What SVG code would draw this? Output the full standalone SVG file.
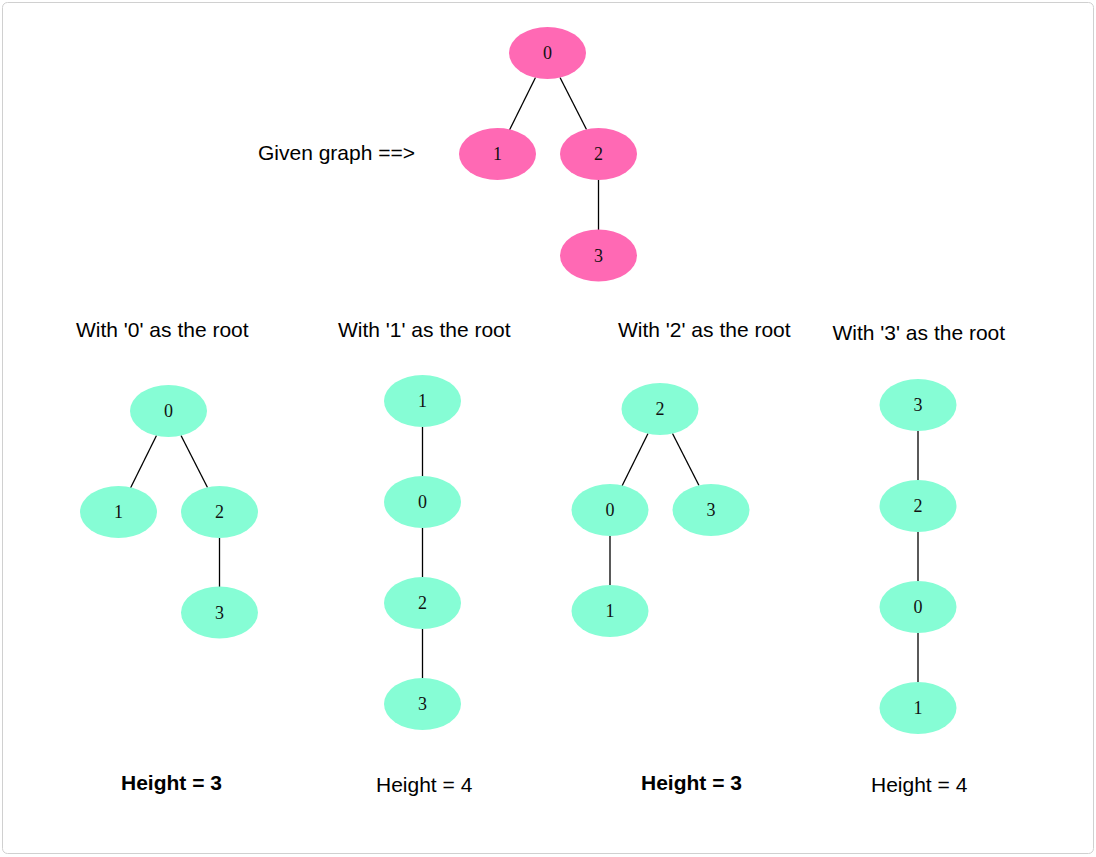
<svg xmlns="http://www.w3.org/2000/svg" width="1096" height="857" viewBox="0 0 1096 857">
<style>
.pink{fill:#ff69b4}
.green{fill:#86fdd5}
.num{font-family:"Liberation Serif","Times New Roman",serif;font-size:18px;fill:#111;text-anchor:middle}
.lbl{font-family:"Liberation Sans",Arial,sans-serif;font-size:21px;fill:#000}
.b{font-weight:bold}
.edges line{stroke:#000;stroke-width:1.3}
</style>
<rect x="2.5" y="2.5" width="1091" height="851" rx="5" fill="#fff" stroke="#d0d0d0" stroke-width="1"/>
<g class="edges">
<line x1="535.5" y1="77.5" x2="509.5" y2="130"/>
<line x1="560" y1="77.5" x2="586.5" y2="129.5"/>
<line x1="598.5" y1="180" x2="598.5" y2="230"/>
<line x1="156.5" y1="435.5" x2="130.5" y2="488"/>
<line x1="181" y1="435.5" x2="207.5" y2="487.5"/>
<line x1="219.5" y1="538" x2="219.5" y2="587"/>
<line x1="422.5" y1="427" x2="422.5" y2="477"/>
<line x1="422.5" y1="528" x2="422.5" y2="577"/>
<line x1="422.5" y1="629" x2="422.5" y2="678"/>
<line x1="648" y1="433.5" x2="622" y2="486"/>
<line x1="672.5" y1="433.5" x2="699" y2="485.5"/>
<line x1="610" y1="536" x2="610" y2="586"/>
<line x1="918" y1="431" x2="918" y2="480"/>
<line x1="918" y1="532" x2="918" y2="581"/>
<line x1="918" y1="633" x2="918" y2="683"/>
</g>
<g id="g0"><ellipse class="pink" cx="547.5" cy="53" rx="38.5" ry="26"/><text class="num" x="547.5" y="59">0</text></g>
<g id="g1"><ellipse class="pink" cx="497.5" cy="154" rx="38.5" ry="26"/><text class="num" x="497.5" y="160">1</text></g>
<g id="g2"><ellipse class="pink" cx="598.5" cy="154" rx="38.5" ry="26"/><text class="num" x="598.5" y="160">2</text></g>
<g id="g3"><ellipse class="pink" cx="598.5" cy="255.5" rx="38.5" ry="26"/><text class="num" x="598.5" y="261.5">3</text></g>

<g id="a0"><ellipse class="green" cx="168.5" cy="411" rx="38.5" ry="26"/><text class="num" x="168.5" y="417">0</text></g>
<g id="a1"><ellipse class="green" cx="118.5" cy="512" rx="38.5" ry="26"/><text class="num" x="118.5" y="518">1</text></g>
<g id="a2"><ellipse class="green" cx="219.5" cy="512" rx="38.5" ry="26"/><text class="num" x="219.5" y="518">2</text></g>
<g id="a3"><ellipse class="green" cx="219.5" cy="612.5" rx="38.5" ry="26"/><text class="num" x="219.5" y="618.5">3</text></g>

<g id="b1"><ellipse class="green" cx="422.5" cy="401" rx="38.5" ry="26"/><text class="num" x="422.5" y="407">1</text></g>
<g id="b0"><ellipse class="green" cx="422.5" cy="502" rx="38.5" ry="26"/><text class="num" x="422.5" y="508">0</text></g>
<g id="b2"><ellipse class="green" cx="422.5" cy="603" rx="38.5" ry="26"/><text class="num" x="422.5" y="609">2</text></g>
<g id="b3"><ellipse class="green" cx="422.5" cy="704" rx="38.5" ry="26"/><text class="num" x="422.5" y="710">3</text></g>

<g id="c2"><ellipse class="green" cx="660" cy="409" rx="38.5" ry="26"/><text class="num" x="660" y="415">2</text></g>
<g id="c0"><ellipse class="green" cx="610" cy="510" rx="38.5" ry="26"/><text class="num" x="610" y="516">0</text></g>
<g id="c3"><ellipse class="green" cx="711" cy="510" rx="38.5" ry="26"/><text class="num" x="711" y="516">3</text></g>
<g id="c1"><ellipse class="green" cx="610" cy="611" rx="38.5" ry="26"/><text class="num" x="610" y="617">1</text></g>

<g id="d3"><ellipse class="green" cx="918" cy="405" rx="38.5" ry="26"/><text class="num" x="918" y="411">3</text></g>
<g id="d2"><ellipse class="green" cx="918" cy="506" rx="38.5" ry="26"/><text class="num" x="918" y="512">2</text></g>
<g id="d0"><ellipse class="green" cx="918" cy="607" rx="38.5" ry="26"/><text class="num" x="918" y="613">0</text></g>
<g id="d1"><ellipse class="green" cx="918" cy="708" rx="38.5" ry="26"/><text class="num" x="918" y="714">1</text></g>

<g id="labels">
<text class="lbl" x="258" y="159.5">Given graph ==&gt;</text>
<text class="lbl" x="76" y="337">With '0' as the root</text>
<text class="lbl" x="338" y="337">With '1' as the root</text>
<text class="lbl" x="618" y="337">With '2' as the root</text>
<text class="lbl" x="832.5" y="339.5">With '3' as the root</text>
<text class="lbl b" x="121" y="789.5">Height = 3</text>
<text class="lbl" x="376" y="791.5">Height = 4</text>
<text class="lbl b" x="641" y="789.5">Height = 3</text>
<text class="lbl" x="871" y="791.5">Height = 4</text>
</g>
</svg>
